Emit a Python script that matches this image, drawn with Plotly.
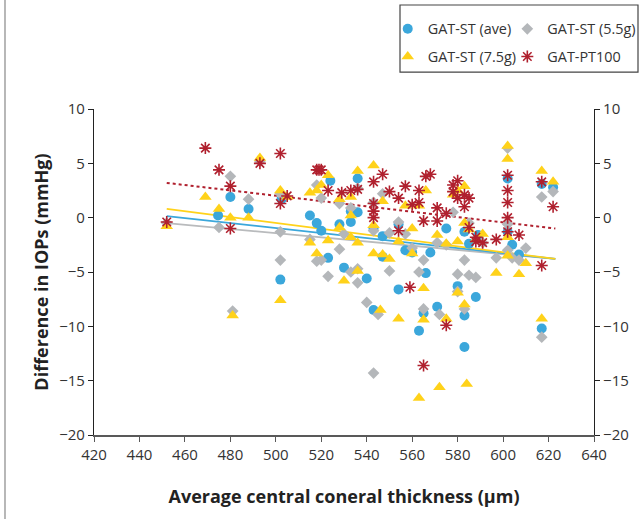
import plotly.graph_objects as go

# ---------------- data ----------------
ave_x = [474.6, 480, 488, 502.5, 502, 515, 518, 520, 524, 523, 528, 530, 533, 533, 536, 536, 540, 543, 543, 547, 547,
         554, 554, 557, 560, 563, 565, 566, 568, 571, 575, 580, 583, 583, 583, 585, 589, 588, 602, 602, 604, 607, 617, 617, 622]
ave_y = [0.2, 1.9, 0.8, 1.7, -5.7, 0.2, -0.5, -1.2, 3.4, -3.7, -0.6, -4.6, 0.6, -0.4, 3.6, 0.5, -5.6, -1.0, -8.5, -1.7, -3.6,
         -0.6, -6.6, -3.0, -3.2, -10.4, -8.8, -5.1, -3.2, -8.2, -1.0, -6.3, -1.3, -9.0, -11.9, -2.4, -1.6, -7.3, 3.6, -1.3, -2.5, -3.4, 3.1, -10.2, 2.8]

g55_x = [452, 475, 480, 481, 488, 493, 502, 502, 502, 515, 518, 518, 520, 520, 523, 528, 528, 530, 533, 533, 536, 536, 536,
         540, 543, 543, 543, 545, 547, 550, 550, 554, 557, 560, 563, 565, 565, 571, 572, 575, 578, 580, 580, 583, 583, 585, 585,
         588, 591, 597, 602, 602, 602, 604, 607, 610, 617, 617, 622]
g55_y = [-0.5, -0.9, 3.8, -8.6, 1.7, 5.2, 2.2, -1.3, -3.9, -2.0, 3.0, -4.0, 1.8, -3.9, -5.4, 1.3, -2.9, -1.5, 0.9, -5.0, 2.7, -4.7, -6.0,
         -7.8, 1.4, -1.2, -14.3, -8.9, 2.2, -1.4, -4.9, -0.4, -1.5, -2.8, -5.0, -8.4, -3.9, -2.3, -8.9, -2.5, 0.5, -5.2, -6.8, -3.9, -8.4, -0.5, -5.3,
         -5.5, -2.3, -3.7, 6.4, -0.6, -3.0, -3.7, -3.9, -2.8, 1.9, -11.0, 2.4]

g75_x = [452, 469, 475, 480, 481, 488, 493, 502, 502, 505, 515, 515, 518, 518, 520, 523, 523, 528, 528, 530, 533, 533, 533,
         536, 536, 536, 543, 543, 543, 546, 547, 547, 550, 554, 554, 557, 560, 560, 563, 563, 565, 565, 566, 571, 572, 575, 575,
         578, 580, 580, 580, 583, 583, 583, 584, 585, 588, 591, 597, 602, 602, 602, 602, 607, 610, 617, 617, 622]
g75_y = [-0.8, 1.9, 0.8, 0.0, -9.0, 0.0, 5.5, 2.5, -7.6, 1.9, 2.3, -2.3, 2.5, -3.3, 3.0, 3.9, -2.1, 1.7, -0.9, -5.8, 0.2, -1.8, 1.9,
         4.3, -2.3, -4.9, 4.8, -0.7, -3.3, -8.5, 1.5, -3.4, -3.8, -2.2, -9.3, 1.1, -1.0, -3.3, 1.1, -16.6, -9.4, -6.5, 2.5, -1.6, -15.6, -9.3, -2.4,
         2.1, 2.5, -6.9, -2.2, 2.9, -0.5, -8.0, -15.3, -1.1, -2.0, -1.5, -5.1, 6.6, 5.4, -3.5, -1.8, -5.2, -4.2, 4.3, -9.3, 3.3]

pt_x = [452, 469, 475, 480, 480, 493, 502, 502, 505, 518, 519, 520, 523, 529, 533, 536, 543, 543, 543, 543, 547, 550, 554, 554,
        557, 559, 560, 563, 563, 565, 565, 566, 568, 571, 571, 575, 575, 578, 578, 580, 580, 583, 583, 585, 585, 588, 588, 591,
        597, 602, 602, 602, 602, 602, 607, 617, 617, 622]
pt_y = [-0.4, 6.4, 4.4, 2.9, -1.0, 5.0, 5.9, 1.3, 2.0, 4.4, 4.4, 4.4, 2.5, 2.3, 2.5, 2.6, 3.3, 1.3, 0.6, 0.0, 4.0, 2.4, 1.8, -1.2,
        2.9, -6.4, 1.2, 2.5, 1.4, -13.6, -0.3, 3.8, 4.0, -0.3, 0.9, -9.9, 0.4, 2.4, 3.0, 3.4, 1.8, 2.1, 1.0, 1.8, -0.9, -1.8, -2.2, -2.3,
        -2.0, 3.9, 2.5, 1.4, 0.0, -1.3, -1.6, 3.3, -4.4, 1.0]

# trendline end points
trend_x = [452, 623]
trend_ave = [0.15, -3.8]
trend_g55 = [-0.5, -3.8]
trend_g75 = [0.8, -3.8]
trend_pt = [3.2, -1.0]

x_ticks = list(range(420, 641, 20))
y_ticks = list(range(-20, 11, 5))

BLUE = "#3BA7DB"
GREY = "#B4B7BA"
YELLOW = "#FFD21A"
RED = "#B0202E"

fig = go.Figure()

# trendlines
fig.add_trace(go.Scatter(x=trend_x, y=trend_g55, mode="lines", line=dict(color="#B9BBBD", width=1.8), showlegend=False, hoverinfo="skip"))
fig.add_trace(go.Scatter(x=trend_x, y=trend_ave, mode="lines", line=dict(color=BLUE, width=1.8), showlegend=False, hoverinfo="skip"))
fig.add_trace(go.Scatter(x=trend_x, y=trend_g75, mode="lines", line=dict(color=YELLOW, width=1.8), showlegend=False, hoverinfo="skip"))
fig.add_trace(go.Scatter(x=trend_x, y=trend_pt, mode="lines", line=dict(color=RED, width=2, dash="dot"), showlegend=False, hoverinfo="skip"))

fig.add_trace(go.Scatter(x=ave_x, y=ave_y, mode="markers", name="GAT-ST (ave)", legend="legend", legendgroup="a",
                         marker=dict(symbol="circle", size=10, color=BLUE)))
fig.add_trace(go.Scatter(x=g55_x, y=g55_y, mode="markers", name="GAT-ST (5.5g)", legend="legend2", legendgroup="b",
                         marker=dict(symbol="diamond", size=9, color=GREY)))
fig.add_trace(go.Scatter(x=g75_x, y=g75_y, mode="markers", name="GAT-ST (7.5g)", legend="legend", legendgroup="c",
                         marker=dict(symbol="triangle-up", size=11, color=YELLOW)))
fig.add_trace(go.Scatter(x=pt_x, y=pt_y, mode="markers", name="GAT-PT100", legend="legend2", legendgroup="d",
                         marker=dict(symbol="asterisk-open", size=10, line=dict(color=RED, width=1.6), color=RED)))

# invisible trace for the right-hand axis
fig.add_trace(go.Scatter(x=trend_x, y=trend_pt, yaxis="y2", mode="lines", line=dict(width=0), opacity=0,
                         showlegend=False, hoverinfo="skip"))

axis_font = dict(family="Open Sans, Liberation Sans, sans-serif", size=15, color="#333333")
leg_font = dict(family="Open Sans, Liberation Sans, sans-serif", size=14.4, color="#333333")

fig.update_layout(
    width=643, height=519,
    margin=dict(l=94, r=49, t=109, b=84, autoexpand=False),
    paper_bgcolor="white", plot_bgcolor="white",
    font=axis_font,
    xaxis=dict(range=[420, 640], tickvals=x_ticks, showgrid=False, zeroline=False,
               showline=True, linecolor="#595959", linewidth=1.5,
               ticks="outside", ticklen=5, tickcolor="#595959",
               title=dict(text="<b>Average central coneral thickness (µm)</b>", font=dict(size=18, color="#222222"), standoff=28)),
    yaxis=dict(range=[-20, 10], tickvals=y_ticks, showgrid=False, zeroline=False,
               showline=True, linecolor="#222222", linewidth=1.2,
               ticks="outside", ticklen=5, tickcolor="#222222",
               title=dict(text="<b>Difference in IOPs (mmHg)</b>", font=dict(size=18, color="#222222"), standoff=5)),
    yaxis2=dict(range=[-20, 10], tickvals=y_ticks, overlaying="y", side="right", anchor="x",
                showgrid=False, zeroline=False, showline=True, linecolor="#222222", linewidth=1.2,
                ticks="outside", ticklen=5, tickcolor="#222222"),
    legend=dict(orientation="v", xref="container", yref="container", x=0.603, y=0.975, xanchor="left", yanchor="top",
                borderwidth=0, bgcolor="rgba(0,0,0,0)", font=leg_font, tracegroupgap=6),
    legend2=dict(orientation="v", xref="container", yref="container", x=0.789, y=0.975, xanchor="left", yanchor="top",
                 borderwidth=0, bgcolor="rgba(0,0,0,0)", font=leg_font, tracegroupgap=6),
    showlegend=True,
)

# legend box
fig.add_shape(type="rect", xref="paper", yref="paper", x0=0.612, x1=1.088, y0=1.113, y1=1.319,
              line=dict(color="#444444", width=1.2), fillcolor="rgba(0,0,0,0)", layer="below")
# outer frame edge
fig.add_shape(type="line", xref="paper", yref="paper", x0=-0.178, x1=-0.178, y0=-0.3, y1=1.4,
              line=dict(color="#888888", width=1.2))

fig.write_html("out.html")
